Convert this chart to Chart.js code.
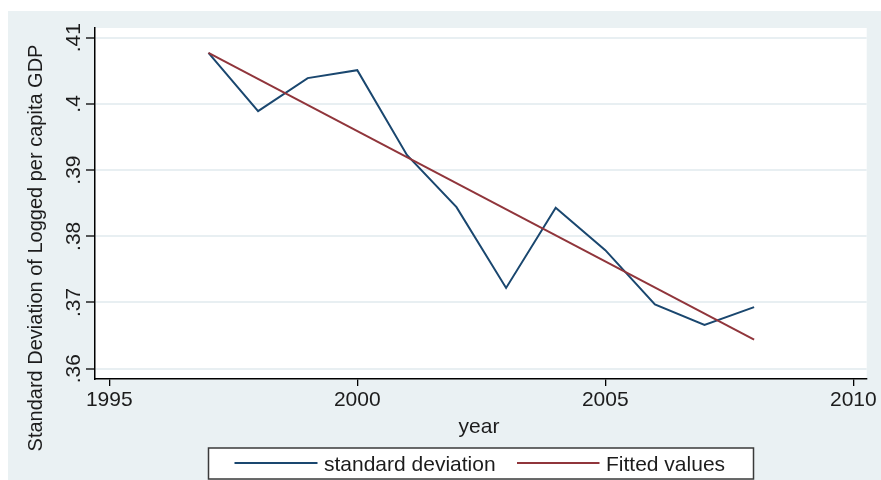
<!DOCTYPE html>
<html>
<head>
<meta charset="utf-8">
<style>
  html, body { margin: 0; padding: 0; background: #ffffff; }
  #wrap { width: 881px; height: 480px; position: relative; }
</style>
<script src="https://cdn.jsdelivr.net/npm/chart.js@4.4.1/dist/chart.umd.min.js"></script>
</head>
<body>
<div id="wrap"><canvas id="chart" width="881" height="480"></canvas></div>
<script>
// Cross-country dispersion of logged per capita GDP, by year
const years = [1997, 1998, 1999, 2000, 2001, 2002, 2003, 2004, 2005, 2006, 2007, 2008];
const stdDev = [0.4077, 0.3989, 0.4039, 0.4051, 0.3923, 0.3844, 0.3722, 0.3843, 0.3779, 0.3697, 0.3666, 0.3693];

// Linear fit, end points
const fitYears = [1997, 2008];
const fitValues = [0.4077, 0.3644];

const xTicks = [1995, 2000, 2005, 2010];
const yTicks = [0.36, 0.37, 0.38, 0.39, 0.40, 0.41];
const yTickLabels = ['.36', '.37', '.38', '.39', '.4', '.41'];

const seriesNames = ['standard deviation', 'Fitted values'];
const xTitle = 'year';
const yTitle = 'Standard Deviation of Logged per capita GDP';

const FONT = '"Liberation Sans", Arial, Helvetica, sans-serif';
const TEXT = '#1c1c1c';
const FRAME = '#eaf1f3';
const GRID = '#e8eff2';

const toPoints = (xs, ys) => xs.map((x, i) => ({ x: x, y: ys[i] }));

// Stata-like backdrop: outer frame, white plot region
const backdrop = {
  id: 'backdrop',
  beforeDraw(chart) {
    const { ctx, chartArea: a } = chart;
    ctx.save();
    ctx.fillStyle = '#ffffff';
    ctx.fillRect(0, 0, chart.width, chart.height);
    ctx.fillStyle = FRAME;
    ctx.fillRect(8, 11, chart.width - 8, chart.height - 11);
    ctx.fillStyle = '#ffffff';
    ctx.fillRect(a.left, a.top, a.right - a.left, a.bottom - a.top);
    ctx.restore();
  }
};

// Rotated y tick labels, axis titles and the legend box
const annotations = {
  id: 'annotations',
  afterDraw(chart) {
    const { ctx, chartArea: a } = chart;
    const ys = chart.scales.y;
    ctx.save();
    ctx.fillStyle = TEXT;

    // y tick labels, reading upward
    ctx.font = '21px ' + FONT;
    ctx.textAlign = 'center';
    ctx.textBaseline = 'alphabetic';
    yTicks.forEach((v, i) => {
      const py = ys.getPixelForValue(v);
      ctx.save();
      ctx.translate(80, py);
      ctx.rotate(-Math.PI / 2);
      ctx.fillText(yTickLabels[i], 0, 0);
      ctx.restore();
    });

    // y axis title
    ctx.font = '20px ' + FONT;
    ctx.save();
    ctx.translate(41.5, 248);
    ctx.rotate(-Math.PI / 2);
    ctx.fillText(yTitle, 0, 0);
    ctx.restore();

    // x axis title
    ctx.font = '21px ' + FONT;
    ctx.fillText(xTitle, 479, 432.5);

    // legend
    const bx = 208.5, by = 448, bw = 545, bh = 31;
    ctx.fillStyle = '#ffffff';
    ctx.fillRect(bx, by, bw, bh);
    ctx.strokeStyle = '#3a3a3a';
    ctx.lineWidth = 1.5;
    ctx.strokeRect(bx, by, bw, bh);

    const entries = [
      { x0: 234.5, x1: 317.5, tx: 324 },
      { x0: 517, x1: 599.5, tx: 606 }
    ];
    chart.data.datasets.forEach((ds, i) => {
      const e = entries[i];
      ctx.strokeStyle = ds.borderColor;
      ctx.lineWidth = 2;
      ctx.beginPath();
      ctx.moveTo(e.x0, 463);
      ctx.lineTo(e.x1, 463);
      ctx.stroke();
      ctx.fillStyle = TEXT;
      ctx.font = '21px ' + FONT;
      ctx.textAlign = 'left';
      ctx.fillText(ds.label, e.tx, 470.5);
    });
    ctx.restore();
  }
};

new Chart(document.getElementById('chart'), {
  type: 'line',
  data: {
    datasets: [
      {
        label: seriesNames[0],
        data: toPoints(years, stdDev),
        borderColor: '#1a476f',
        borderWidth: 2,
        pointRadius: 0,
        tension: 0,
        fill: false,
        order: 1
      },
      {
        label: seriesNames[1],
        data: toPoints(fitYears, fitValues),
        borderColor: '#90353b',
        borderWidth: 2,
        pointRadius: 0,
        tension: 0,
        fill: false,
        order: 0
      }
    ]
  },
  options: {
    responsive: false,
    animation: false,
    devicePixelRatio: 1,
    layout: { padding: { top: 28, right: 14.3, left: 0, bottom: 0 } },
    plugins: {
      legend: { display: false },
      tooltip: { enabled: false },
      title: { display: false }
    },
    scales: {
      x: {
        type: 'linear',
        min: 1994.712,
        max: 2010.27,
        afterBuildTicks(scale) { scale.ticks = xTicks.map(v => ({ value: v })); },
        afterFit(scale) { scale.height = 101; },
        grid: {
          drawOnChartArea: false,
          drawTicks: true,
          tickLength: 7,
          color: '#000000',
          lineWidth: 1.3
        },
        border: { display: true, color: '#000000', width: 1.5 },
        ticks: {
          autoSkip: false,
          maxRotation: 0,
          padding: 2,
          color: TEXT,
          font: { family: FONT, size: 21 },
          callback: v => String(v)
        }
      },
      y: {
        type: 'linear',
        min: 0.35844,
        max: 0.41147,
        afterBuildTicks(scale) { scale.ticks = yTicks.map(v => ({ value: v })); },
        afterFit(scale) { scale.width = 95; },
        grid: {
          drawOnChartArea: true,
          drawTicks: true,
          tickLength: 9,
          color: GRID,
          lineWidth: 2,
          tickColor: '#000000',
          tickWidth: 1.3
        },
        border: { display: true, color: '#000000', width: 1.5 },
        ticks: { display: false }
      }
    }
  },
  plugins: [backdrop, annotations]
});
</script>
</body>
</html>
